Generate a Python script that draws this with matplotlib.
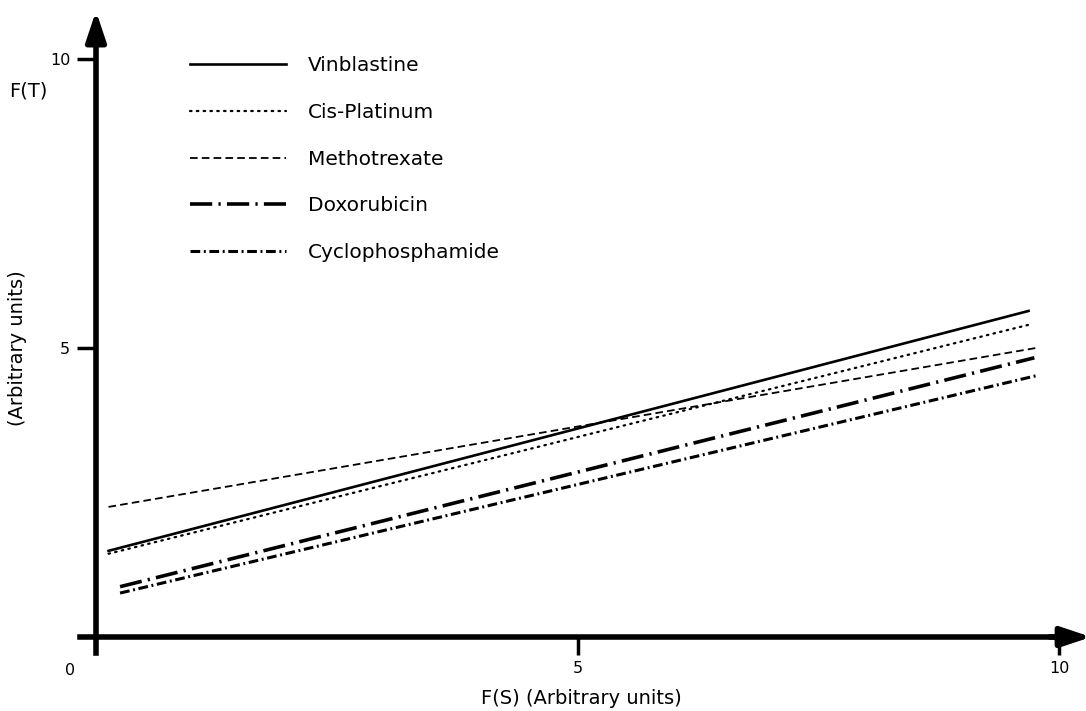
import matplotlib
matplotlib.use("Agg")
import matplotlib.pyplot as plt

plt.rcParams['font.family'] = ['DejaVu Sans']
plt.rcParams['lines.scale_dashes'] = False

drugs = ["Vinblastine", "Cis-Platinum", "Methotrexate", "Doxorubicin", "Cyclophosphamide"]
x_start = [0.13, 0.13, 0.13, 0.25, 0.25]
x_end = [9.68, 9.68, 9.76, 9.74, 9.76]
y_start = [1.49, 1.44, 2.25, 0.87, 0.76]
y_end = [5.64, 5.40, 5.00, 4.83, 4.52]
x_ticks = [5, 10]
y_ticks = [5, 10]

styles = [
    dict(linestyle='-', lw=1.9),
    dict(linestyle=(0, (1.1, 3.8)), lw=1.6, dash_capstyle='round'),
    dict(linestyle=(0, (5.5, 3.0)), lw=1.3),
    dict(linestyle=(0, (16, 4.5, 1.6, 4.5)), lw=2.6),
    dict(linestyle=(0, (7, 2.6, 1.4, 2.6)), lw=2.2),
]

W, H = 1086, 711
fig = plt.figure(figsize=(W / 100, H / 100), dpi=100)
ax = fig.add_axes([80 / W, (H - 653) / H, (1070 - 80) / W, (653 - 30) / H])
ax.set_xlim(-0.166, 10.11)
ax.set_ylim(-0.277, 10.5)

for name, xs, xe, ys, ye, st in zip(drugs, x_start, x_end, y_start, y_end, styles):
    ax.plot([xs, xe], [ys, ye], color='black', label=name, **st)

for s in ['top', 'right']:
    ax.spines[s].set_visible(False)
ax.spines['left'].set_position(('data', 0))
ax.spines['bottom'].set_position(('data', 0))
for s in ['left', 'bottom']:
    ax.spines[s].set_linewidth(4)

ax.set_xticks(x_ticks)
ax.set_yticks(y_ticks)
ax.tick_params(axis='y', direction='out', length=14, width=2.5, labelsize=11.5, pad=4.5)
ax.tick_params(axis='x', direction='out', length=13, width=2.5, labelsize=11.5, pad=4)

# arrow heads
ax.annotate('', xy=(0, 10.83), xytext=(0, 10.3), annotation_clip=False,
            arrowprops=dict(arrowstyle='-|>,head_length=0.9,head_width=0.3', lw=4,
                            color='black', mutation_scale=20, shrinkA=0, shrinkB=0))
ax.annotate('', xy=(10.33, 0), xytext=(9.9, 0), annotation_clip=False,
            arrowprops=dict(arrowstyle='-|>,head_length=0.9,head_width=0.3', lw=4,
                            color='black', mutation_scale=20, shrinkA=0, shrinkB=0))

ax.text(-0.27, -0.58, '0', fontsize=11.5, ha='center', va='center')

fig.text(28 / W, 1 - 91 / H, 'F(T)', fontsize=14, ha='center', va='center')
fig.text(18 / W, 1 - 348 / H, '(Arbitrary units)', fontsize=14, ha='center', va='center',
         rotation=90)
fig.text(581 / W, 1 - 699 / H, 'F(S) (Arbitrary units)', fontsize=14, ha='center',
         va='center')

leg = ax.legend(loc='upper left', bbox_to_anchor=(190 / W, 1 - 56 / H),
                bbox_transform=fig.transFigure, frameon=False, fontsize=14.5,
                handlelength=4.75, handletextpad=1.1, labelspacing=1.38,
                borderpad=0, borderaxespad=0)

fig.savefig('out.png', dpi=100)
